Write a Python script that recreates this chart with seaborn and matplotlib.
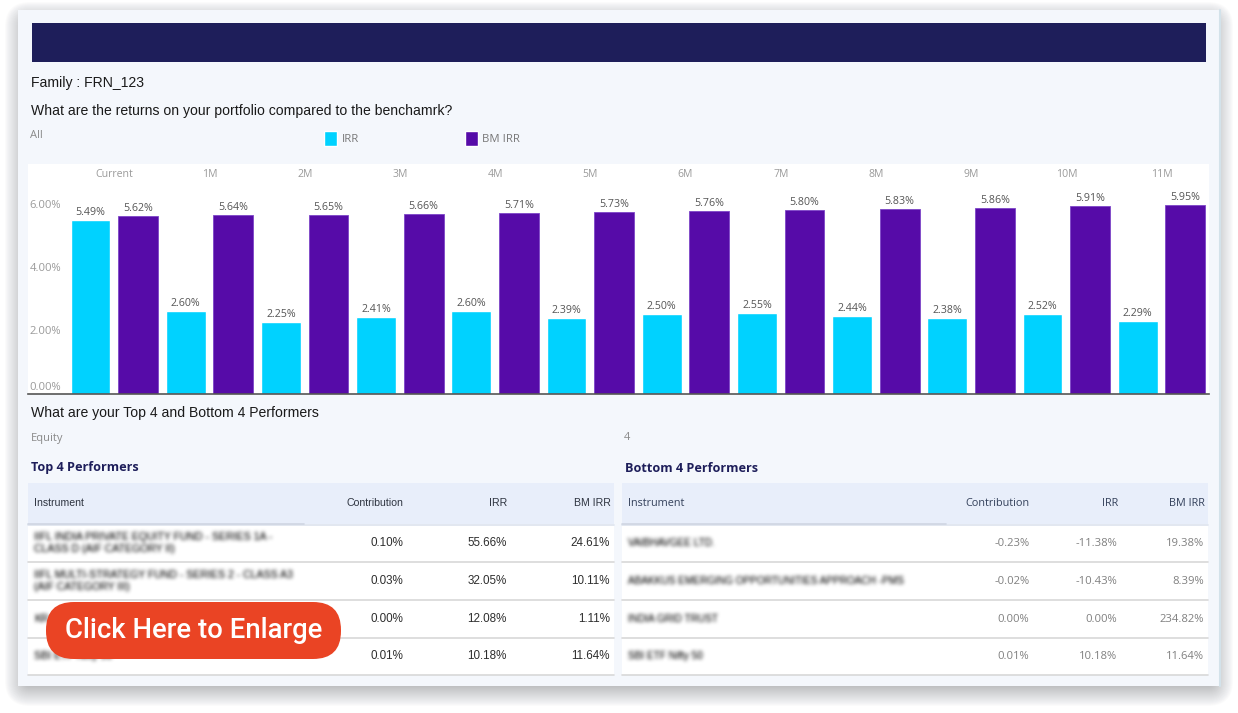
import matplotlib
matplotlib.use("Agg")
import matplotlib.pyplot as plt
from matplotlib.patches import FancyBboxPatch, Rectangle, Patch
import numpy as np
import pandas as pd
import seaborn as sns

# ---- data ----
periods = ["Current", "1M", "2M", "3M", "4M", "5M", "6M", "7M", "8M", "9M", "10M", "11M"]
irr = [5.49, 2.60, 2.25, 2.41, 2.60, 2.39, 2.50, 2.55, 2.44, 2.38, 2.52, 2.29]
bm_irr = [5.62, 5.64, 5.65, 5.66, 5.71, 5.73, 5.76, 5.80, 5.83, 5.86, 5.91, 5.95]
y_ticks = [0, 2, 4, 6]
y_tick_labels = ["0.00%", "2.00%", "4.00%", "6.00%"]

table_cols = ["Instrument", "Contribution", "IRR", "BM IRR"]
top_names = ["IIFL INDIA PRIVATE EQUITY FUND - SERIES 1A -\nCLASS D (AIF CATEGORY II)",
             "IIFL MULTI-STRATEGY FUND - SERIES 2 - CLASS A3\n(AIF CATEGORY III)",
             "KR", "SBI ETF Nifty 50"]
top_contrib = ["0.10%", "0.03%", "0.00%", "0.01%"]
top_irr = ["55.66%", "32.05%", "12.08%", "10.18%"]
top_bm = ["24.61%", "10.11%", "1.11%", "11.64%"]
bot_names = ["VAIBHAVGEE LTD.", "ABAKKUS EMERGING OPPORTUNITIES APPROACH -PMS",
             "INDIA GRID TRUST", "SBI ETF Nifty 50"]
bot_contrib = ["-0.23%", "-0.02%", "0.00%", "0.01%"]
bot_irr = ["-11.38%", "-10.43%", "0.00%", "10.18%"]
bot_bm = ["19.38%", "8.39%", "234.82%", "11.64%"]

CYAN, PURPLE, NAVY = "#00d2ff", "#560ba8", "#1e1e5a"
CARD, HEAD = "#f4f7fc", "#e8eefa"

sns.set_theme(style="white")
plt.rcParams["font.family"] = ["Open Sans", "DejaVu Sans"]

W, H = 1238, 713
PX_PER_UNIT = 31.65
fig = plt.figure(figsize=(W / 100, H / 100), dpi=100, facecolor="white")

bg = fig.add_axes([0, 0, 1, 1], zorder=0)
bg.set_xlim(0, W)
bg.set_ylim(H, 0)
bg.axis("off")


def blur_text(img, dpi):
    """Soft focus for the instrument names (alpha blurred, constant grey)."""
    r = 5
    a = np.pad(img[..., 3], r)
    kernel = np.array([1, 3, 6, 9, 10, 9, 6, 3, 1], float)
    kernel /= kernel.sum()
    a = np.apply_along_axis(lambda v: np.convolve(v, kernel, mode="same"), 0, a)
    a = np.apply_along_axis(lambda v: np.convolve(v, kernel, mode="same"), 1, a)
    out = np.zeros(a.shape + (4,))
    out[..., :3] = 0.36
    out[..., 3] = np.clip(a * 1.7, 0, 1)
    return out, -r, -r


# soft card shadow, heavier below the card
for i in range(24, 0, -1):
    bg.add_patch(FancyBboxPatch((29 - i, 26 - i), 1180 + 2 * i, 656 + 2 * i,
                                boxstyle="round,pad=0,rounding_size=%d" % (i + 1),
                                fc="#30343c", ec="none", alpha=0.0155))
bg.add_patch(Rectangle((18, 10), 1202, 676, fc=CARD, ec="none"))
bg.plot([1219.5, 1219.5], [10, 686], color="#d3e2ea", lw=1.5)
bg.add_patch(Rectangle((32, 23), 1174, 39, fc=NAVY, ec="none"))

sans = "Liberation Sans"
head = dict(family=sans, fontsize=10.1, color="#1a1a1a", va="center")
faint = dict(fontsize=8, color="#8a8a8a", va="center")
bg.text(31, 83, "Family : FRN_123", **head)
bg.text(31, 111, "What are the returns on your portfolio compared to the benchamrk?", **head)
bg.text(30, 135.5, "All", **faint)
bg.text(31, 412.5, "What are your Top 4 and Bottom 4 Performers", **head)
bg.text(31, 438.5, "Equity", **faint)
bg.text(624, 438, "4", **faint)

# bar chart
bg.add_patch(Rectangle((28, 164), 1181, 230, fc="white", ec="none"))
ax = fig.add_axes([28 / W, 1 - 393.5 / H, 1181 / W, 229.5 / H], zorder=1)
ax.patch.set_alpha(0)
df = pd.DataFrame({
    "Period": periods * 2,
    "Value": irr + bm_irr,
    "Series": ["IRR"] * len(irr) + ["BM IRR"] * len(bm_irr),
})
sns.barplot(data=df, x="Period", y="Value", hue="Series", order=periods,
            hue_order=["IRR", "BM IRR"], palette=[CYAN, PURPLE], width=1, gap=0.165,
            saturation=1, legend=False, ax=ax)
ax.set_xlim((28 - 114.3) / 95.2, (1209 - 114.3) / 95.2)
ax.set_ylim(0, 229.5 / PX_PER_UNIT)
ax.set_xlabel("")
ax.set_ylabel("")
for c in ax.containers:
    ax.bar_label(c, fmt="%.2f%%", padding=1.5, fontsize=7.7, color="#555555")
for p in ax.containers[1]:
    p.set_edgecolor("#7d45c8")
    p.set_linewidth(0.6)
for s in ["top", "left", "right"]:
    ax.spines[s].set_visible(False)
ax.spines["bottom"].set_color("#555555")
ax.spines["bottom"].set_linewidth(1.2)
ax.xaxis.tick_top()
ax.tick_params(axis="x", length=0, pad=-11.3, labelsize=7.6, labelcolor="#9a9a9a")
ax.set_yticks(y_ticks)
ax.set_yticklabels(y_tick_labels)
ax.tick_params(axis="y", length=0, pad=-1, labelsize=8.1, labelcolor="#9a9a9a")
for t in ax.get_yticklabels():
    t.set_ha("left")
ax.get_yticklabels()[0].set_va("bottom")

ax.legend(handles=[Patch(fc=CYAN, label="IRR"), Patch(fc=PURPLE, label="BM IRR")],
          ncol=2, frameon=False, fontsize=8.2, labelcolor="#777777",
          handlelength=1.15, handleheight=1.65, handletextpad=0.4, columnspacing=9.3,
          loc="center left", bbox_to_anchor=(324 / W, 1 - 138.5 / H),
          bbox_transform=fig.transFigure, borderpad=0, borderaxespad=0)


# tables
def draw_table(x0, x1, title, names, contrib, rets, bm, cols_r, color, family, hdr_color,
               hdr_dark, hdr_size, val_size, hdr_y, name_size, dy):
    bg.text(x0 + 3, 468, title, family="Open Sans", fontsize=9.1, fontweight="bold",
            color=NAVY, va="center")
    bg.add_patch(Rectangle((x0, 483), x1 - x0, 41, fc=HEAD, ec="none"))
    bg.add_patch(Rectangle((x0, 524), x1 - x0, 151, fc="white", ec="none"))
    bg.plot([x0, x1], [524.5, 524.5], color="#dde3ee", lw=1.2)
    bg.plot([x0, hdr_dark], [524, 524], color="#cfd5e2", lw=1.2)
    ys = [543, 581, 618.5, 656]
    for y in [562, 600, 637.5, 675]:
        bg.plot([x0, x1], [y, y], color="#d8d8d8", lw=1.2)
    bg.text(x0 + 6, hdr_y, table_cols[0], family=family, fontsize=hdr_size, color=hdr_color, va="center")
    for name, xr in zip(table_cols[1:], cols_r):
        bg.text(xr, hdr_y, name, family=family, fontsize=hdr_size, color=hdr_color, va="center", ha="right")
    for i, y in enumerate(ys):
        t = bg.text(x0 + 6, y, names[i], family=sans, fontsize=name_size, color="#444444",
                    va="center", linespacing=1.25, zorder=2)
        t.set_agg_filter(blur_text)
        for vals, xr in zip((contrib, rets, bm), cols_r):
            bg.text(xr - 0.5, y + dy, vals[i], family=family, fontsize=val_size, color=color,
                    va="center", ha="right")


draw_table(28, 614, "Top 4 Performers", top_names, top_contrib, top_irr, top_bm,
           (403.5, 507, 610.5), "#2e2e2e", sans, "#2e3440", 304, 7.6, 8.4, 503, 7.6, 0)
draw_table(622, 1208, "Bottom 4 Performers", bot_names, bot_contrib, bot_irr, bot_bm,
           (1030, 1118, 1204.5), "#808080", "Open Sans", "#33405a", 946, 7.8, 8.1, 504, 7.2, 0.5)

# button
bg.add_patch(FancyBboxPatch((46 + 28, 602 + 28), 295 - 56, 57 - 56,
                            boxstyle="round,pad=28,rounding_size=28",
                            fc="#ea4424", ec="none", zorder=5))
bg.text(194, 630, "Click Here to Enlarge", family="Roboto", fontsize=19.8, fontweight="medium",
        color="white", ha="center", va="center", zorder=6)

fig.savefig("out.png", dpi=100, facecolor="white")
